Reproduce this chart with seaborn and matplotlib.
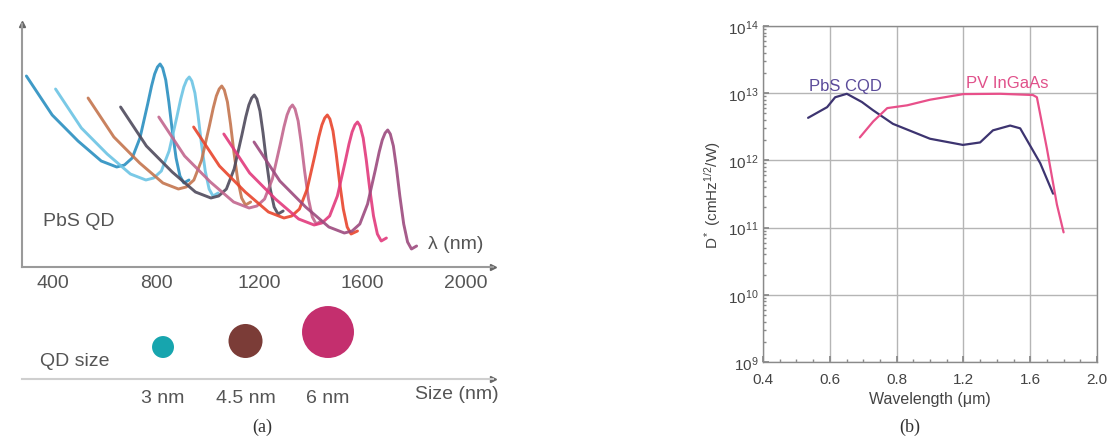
import numpy as np
import pandas as pd
import seaborn as sns
import matplotlib.pyplot as plt
from matplotlib.ticker import FixedLocator, NullFormatter, LogLocator

# ---- (a) PbS QD absorption spectra (wavelength nm, absorbance a.u.) ----
curve_colors = ["#2a8fc0", "#6cc4e4", "#c4744e", "#4f4a5c",
                "#c2668e", "#e8452c", "#e23a7c", "#9c4a7e"]

wl_1 = [297, 397, 497, 587, 647, 677, 707, 737, 767, 782, 794, 805, 815, 825, 837, 849, 862, 877, 892, 907, 927]
ab_1 = [19.1, 15.2, 12.6, 10.6, 10.0, 10.2, 10.9, 12.9, 16.3, 18.1, 19.3, 20.0, 20.3, 19.9, 18.7, 16.5, 13.7, 10.9, 9.1, 8.4, 8.7]
wl_2 = [410, 510, 610, 700, 760, 790, 820, 850, 880, 895, 907, 918, 928, 938, 950, 962, 975, 990, 1005, 1020, 1040]
ab_2 = [17.8, 13.9, 11.3, 9.3, 8.7, 8.9, 9.6, 11.6, 15.0, 16.8, 18.0, 18.7, 19.0, 18.6, 17.4, 15.2, 12.4, 9.6, 7.8, 7.1, 7.4]
wl_3 = [536, 636, 736, 826, 886, 916, 946, 976, 1006, 1021, 1033, 1044, 1054, 1064, 1076, 1088, 1101, 1116, 1131, 1146, 1166]
ab_3 = [16.9, 13.0, 10.4, 8.4, 7.8, 8.0, 8.7, 10.7, 14.1, 15.9, 17.1, 17.8, 18.1, 17.7, 16.5, 14.3, 11.5, 8.7, 6.9, 6.2, 6.5]
wl_4 = [662, 762, 862, 952, 1012, 1042, 1072, 1102, 1132, 1147, 1159, 1170, 1180, 1190, 1202, 1214, 1227, 1242, 1257, 1272, 1292]
ab_4 = [16.0, 12.1, 9.5, 7.5, 6.9, 7.1, 7.8, 9.8, 13.2, 15.0, 16.2, 16.9, 17.2, 16.8, 15.6, 13.4, 10.6, 7.8, 6.0, 5.3, 5.6]
wl_5 = [810, 910, 1010, 1100, 1160, 1190, 1220, 1250, 1280, 1295, 1307, 1318, 1328, 1338, 1350, 1362, 1375, 1390, 1405, 1420, 1440]
ab_5 = [15.0, 11.1, 8.5, 6.5, 5.9, 6.1, 6.8, 8.8, 12.2, 14.0, 15.2, 15.9, 16.2, 15.8, 14.6, 12.4, 9.6, 6.8, 5.0, 4.3, 4.6]
wl_6 = [945, 1045, 1145, 1235, 1295, 1325, 1355, 1385, 1415, 1430, 1442, 1453, 1463, 1473, 1485, 1497, 1510, 1525, 1540, 1555, 1580]
ab_6 = [14.0, 10.1, 7.5, 5.5, 4.9, 5.1, 5.8, 7.8, 11.2, 13.0, 14.2, 14.9, 15.2, 14.8, 13.6, 11.4, 8.6, 5.8, 4.0, 3.3, 3.6]
wl_7 = [1062, 1162, 1262, 1352, 1412, 1442, 1472, 1502, 1532, 1547, 1559, 1570, 1580, 1590, 1602, 1614, 1627, 1642, 1657, 1672, 1692]
ab_7 = [13.3, 9.4, 6.8, 4.8, 4.2, 4.4, 5.1, 7.1, 10.5, 12.3, 13.5, 14.2, 14.5, 14.1, 12.9, 10.7, 7.9, 5.1, 3.3, 2.6, 2.9]
wl_8 = [1179, 1279, 1379, 1469, 1529, 1559, 1589, 1619, 1649, 1664, 1676, 1687, 1697, 1707, 1719, 1731, 1744, 1759, 1774, 1789, 1809]
ab_8 = [12.5, 8.6, 6.0, 4.0, 3.4, 3.6, 4.3, 6.3, 9.7, 11.5, 12.7, 13.4, 13.7, 13.3, 12.1, 9.9, 7.1, 4.3, 2.5, 1.8, 2.1]

spec_wl = [wl_1, wl_2, wl_3, wl_4, wl_5, wl_6, wl_7, wl_8]
spec_ab = [ab_1, ab_2, ab_3, ab_4, ab_5, ab_6, ab_7, ab_8]

qd_size = [3, 4.5, 6]
qd_labels = ["3 nm", "4.5 nm", "6 nm"]
qd_colors = ["#17a5ae", "#7b3c37", "#c42f6e"]
qd_marker_area = {"3 nm": 250, "4.5 nm": 600, "6 nm": 1400}

# ---- (b) detectivity vs wavelength ----
wl_ticks = [0.4, 0.6, 0.8, 1.2, 1.6, 2.0]
pbs_wl = [0.535, 0.592, 0.616, 0.651, 0.696, 0.729, 0.789, 1.0, 1.197, 1.30, 1.377, 1.48, 1.54, 1.66, 1.737]
pbs_d = [4.3e12, 6.2e12, 8.7e12, 9.8e12, 7.4e12, 5.6e12, 3.5e12, 2.1e12, 1.7e12, 1.85e12, 2.8e12, 3.3e12, 3.0e12, 9.1e11, 3.2e11]
ingaas_wl = [0.69, 0.73, 0.772, 0.863, 1.0, 1.2, 1.42, 1.616, 1.64, 1.70, 1.76, 1.80]
ingaas_d = [2.2e12, 3.8e12, 6.0e12, 6.6e12, 8.0e12, 9.7e12, 9.8e12, 9.4e12, 8.7e12, 1.5e12, 2.2e11, 8.5e10]

sns.set_theme(style="white")
plt.rcParams["font.family"] = ["Liberation Sans", "DejaVu Sans"]
plt.rcParams["mathtext.fontset"] = "custom"
plt.rcParams["mathtext.rm"] = "Liberation Sans"
plt.rcParams["mathtext.it"] = "Liberation Sans"

W, H = 1108, 439
fig = plt.figure(figsize=(W / 100, H / 100), dpi=100)
fig.patch.set_facecolor("white")

def box(l, t, r, b):
    return [l / W, 1 - b / H, (r - l) / W, (b - t) / H]

grey = "#9a9a9a"
txt = "#555555"

# ---------- panel (a) spectra ----------
ax1 = fig.add_axes(box(22, 25, 493, 268))
rows = []
for i, (w, a) in enumerate(zip(spec_wl, spec_ab)):
    rows.append(pd.DataFrame({"wl": w, "ab": a, "curve": i}))
spec = pd.concat(rows, ignore_index=True)
sns.lineplot(data=spec, x="wl", y="ab", hue="curve", palette=curve_colors,
             estimator=None, sort=False, legend=False, linewidth=2.1, alpha=0.9, ax=ax1)
ax1.set_xlim(280, 2105)
ax1.set_ylim(0, 24.3)
ax1.set_xlabel("")
ax1.set_ylabel("")
for s in ["top", "right"]:
    ax1.spines[s].set_visible(False)
for s in ["left", "bottom"]:
    ax1.spines[s].set_color(grey)
    ax1.spines[s].set_linewidth(1.5)
ax1.set_yticks([])
ax1.set_xticks(np.arange(400, 2001, 200))
ax1.set_xticklabels([str(v) if v % 400 == 0 else "" for v in range(400, 2001, 200)])
ax1.tick_params(axis="x", direction="in", length=6, width=1.3, color="#666666",
                labelsize=14, labelcolor=txt, pad=5)
ax1.plot([1], [0], marker=">", ms=5, color="#666666", transform=ax1.transAxes, clip_on=False)
ax1.plot([0], [1], marker="^", ms=5, color="#666666", transform=ax1.transAxes, clip_on=False)
ax1.text(361, 4.6, "PbS QD", fontsize=14, color=txt, va="center", ha="left")
fig.text(428 / W, 1 - 245 / H, "λ (nm)", fontsize=14, color=txt, va="center", ha="left")

# ---------- panel (a) QD size ----------
ax3 = fig.add_axes(box(22, 300, 493, 380))
sns.scatterplot(x=qd_size, y=[21 + np.sqrt(qd_marker_area[l]) / 0.72 / 2 for l in qd_labels],
                hue=qd_labels, palette=qd_colors, size=qd_labels, sizes=qd_marker_area,
                edgecolor="none", legend=False, ax=ax3)
ax3.set_xlim(0.436, 9.0)
ax3.set_ylim(0, 80)
for s in ["top", "right", "left"]:
    ax3.spines[s].set_visible(False)
ax3.spines["bottom"].set_color("#cfcfcf")
ax3.spines["bottom"].set_linewidth(1.5)
ax3.set_yticks([])
ax3.set_xticks(qd_size)
ax3.set_xticklabels(qd_labels)
ax3.tick_params(axis="x", length=0, labelsize=14, labelcolor=txt, pad=7)
ax3.plot([1], [0], marker=">", ms=4, color="#666666", transform=ax3.transAxes, clip_on=False)
fig.text(40 / W, 1 - 362 / H, "QD size", fontsize=14, color=txt, va="center", ha="left")
fig.text(415 / W, 1 - 395 / H, "Size (nm)", fontsize=14, color=txt, va="center", ha="left")
fig.text(262 / W, 1 - 427 / H, "(a)", fontsize=13, color="#333333", va="center", ha="center",
         family="Liberation Serif")

# ---------- panel (b) ----------
ax2 = fig.add_axes(box(763, 27, 1097, 363))
det = pd.concat([
    pd.DataFrame({"wl": pbs_wl, "D": pbs_d, "dev": "PbS CQD"}),
    pd.DataFrame({"wl": ingaas_wl, "D": ingaas_d, "dev": "PV InGaAs"}),
], ignore_index=True)
sns.lineplot(data=det, x="wl", y="D", hue="dev", palette=["#3d3470", "#e8508a"],
             estimator=None, sort=False, legend=False, linewidth=1.6, ax=ax2)

pos = np.arange(len(wl_ticks), dtype=float)
fwd = lambda x: np.interp(x, wl_ticks, pos)
inv = lambda p: np.interp(p, pos, wl_ticks)
ax2.set_xscale("function", functions=(fwd, inv))
ax2.set_yscale("log")
ax2.set_xlim(0.4, 2.0)
ax2.set_ylim(1e9, 1e14)
ax2.set_xticks(wl_ticks)
ax2.set_xticklabels([f"{v:.1f}" for v in wl_ticks])
ax2.xaxis.set_minor_locator(FixedLocator(inv(np.arange(0, 5.001, 0.25))))
ax2.yaxis.set_major_locator(LogLocator(base=10, numticks=10))
ax2.yaxis.set_minor_locator(LogLocator(base=10, subs=np.arange(2, 10), numticks=20))
ax2.yaxis.set_minor_formatter(NullFormatter())
ax2.grid(True, which="major", color="#b5b5b5", linewidth=1)
for s in ax2.spines.values():
    s.set_color("#8a8a8a")
    s.set_linewidth(1)
ax2.tick_params(which="both", direction="in", color="#888888", labelcolor="#444444",
                bottom=True, left=True)
ax2.tick_params(which="major", length=4, labelsize=11)
ax2.tick_params(axis="x", which="major", pad=7)
ax2.tick_params(axis="y", which="major", pad=3)
ax2.tick_params(which="minor", length=2.5)
ax2.set_xlabel("Wavelength (μm)", fontsize=11.5, color="#444444", labelpad=4)
ax2.set_ylabel("D$^*$ (cmHz$^{1/2}$/W)", fontsize=11, color="#444444", labelpad=4)
fig.text(845 / W, 1 - 87 / H, "PbS CQD", fontsize=12, color="#5b4b9a", ha="center", va="center")
fig.text(1007 / W, 1 - 83 / H, "PV InGaAs", fontsize=12, color="#e0508a", ha="center", va="center")
fig.text(910 / W, 1 - 427 / H, "(b)", fontsize=13, color="#333333", va="center", ha="center",
         family="Liberation Serif")

fig.savefig("out.png", dpi=100, facecolor="white")
